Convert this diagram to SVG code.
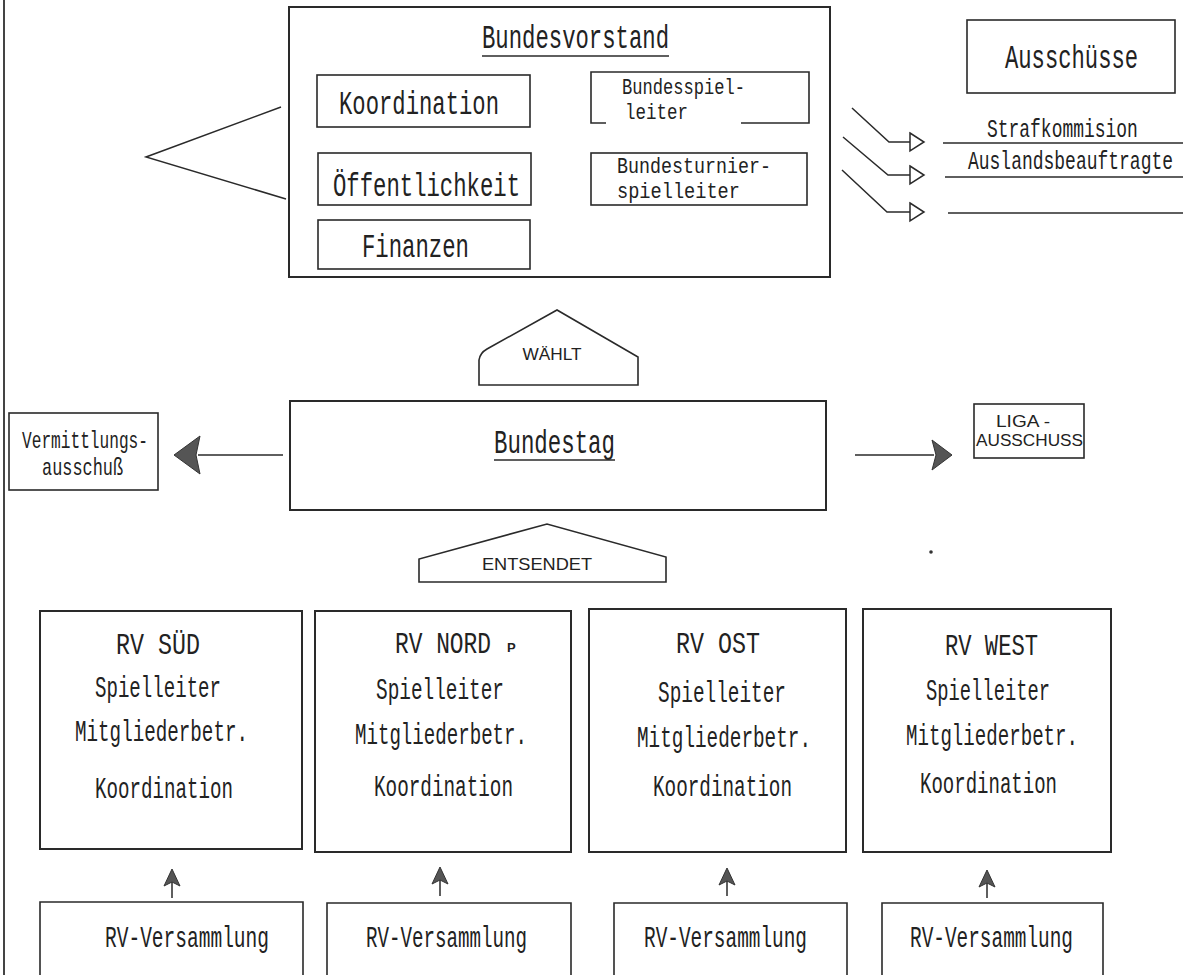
<svg xmlns="http://www.w3.org/2000/svg" width="1183" height="975" viewBox="0 0 1183 975">
<style>
.bx{fill:none;stroke:#2a2a2a;stroke-width:1.6}
.bxt{fill:none;stroke:#2a2a2a;stroke-width:2}
.ln{fill:none;stroke:#2a2a2a;stroke-width:1.5}
.m{font-family:"Liberation Mono","DejaVu Sans Mono",monospace;fill:#222}
.s{font-family:"Liberation Sans",Arial,sans-serif;fill:#222}
.big{font-size:33px}
.mid{font-size:30px}
.two{font-size:22px}
.ss{font-size:26px}
.sm{font-size:24px}
.ah{fill:#555;stroke:#333;stroke-width:1}
.oh{fill:#fff;stroke:#2a2a2a;stroke-width:1.5}
</style>
<rect width="1183" height="975" fill="#fff"/>
<line x1="4" y1="0" x2="4" y2="975" stroke="#444" stroke-width="2"/>

<g id="connectors">
  <polyline class="ln" points="281,107 146,157 286,199"/>
  <polyline class="ln" points="852,108 889,142 910,142"/>
  <path class="oh" d="M910,133 L924,142 L910,151 Z"/>
  <polyline class="ln" points="843,137 888,175 910,175"/>
  <path class="oh" d="M910,166 L924,175 L910,184 Z"/>
  <polyline class="ln" points="842,170 887,212 910,212"/>
  <path class="oh" d="M910,203 L924,212 L910,221 Z"/>
  <line class="ln" x1="943" y1="143" x2="1183" y2="143"/>
  <line class="ln" x1="945" y1="177" x2="1183" y2="177"/>
  <line class="ln" x1="948" y1="213" x2="1183" y2="213"/>
  <line class="ln" x1="283" y1="455" x2="198" y2="455"/>
  <path class="ah" d="M174,455 L200,436 L196,455 L200,474 Z"/>
  <line class="ln" x1="855" y1="455" x2="934" y2="455"/>
  <path class="ah" d="M952,455 L932,440 L936,455 L932,470 Z"/>
  <line class="ln" x1="172" y1="898" x2="172" y2="880"/>
  <path class="ah" d="M172,869 L180,886 L172,882 L164,886 Z"/>
  <line class="ln" x1="440" y1="896" x2="440" y2="878"/>
  <path class="ah" d="M440,867 L448,884 L440,880 L432,884 Z"/>
  <line class="ln" x1="727" y1="896" x2="727" y2="878"/>
  <path class="ah" d="M727,868 L735,885 L727,881 L719,885 Z"/>
  <line class="ln" x1="987" y1="898" x2="987" y2="880"/>
  <path class="ah" d="M987,870 L995,887 L987,883 L979,887 Z"/>
</g>

<g id="bundesvorstand">
  <rect class="bxt" x="289" y="7" width="541" height="270"/>
  <text class="m big" x="482" y="48" textLength="187" lengthAdjust="spacingAndGlyphs">Bundesvorstand</text>
  <line class="ln" x1="482" y1="56" x2="669" y2="56"/>
</g>
<g id="koordination">
  <rect class="bx" x="317" y="75" width="213" height="52"/>
  <text class="m big" x="339" y="114" textLength="160" lengthAdjust="spacingAndGlyphs">Koordination</text>
</g>
<g id="oeffentlichkeit">
  <rect class="bx" x="318" y="153" width="213" height="52"/>
  <text class="m big" x="333" y="196" textLength="187" lengthAdjust="spacingAndGlyphs">Öffentlichkeit</text>
</g>
<g id="finanzen">
  <rect class="bx" x="318" y="220" width="212" height="49"/>
  <text class="m big" x="362" y="257" textLength="107" lengthAdjust="spacingAndGlyphs">Finanzen</text>
</g>
<g id="bundesspielleiter">
  <path class="bx" d="M606,123 L591,123 L591,72 L809,72 L809,123 L741,123"/>
  <text class="m two" transform="translate(622,94) scale(0.776,1)">Bundesspiel-</text>
  <text class="m two" transform="translate(625,119) scale(0.795,1)">leiter</text>
</g>
<g id="bundesturnierspielleiter">
  <rect class="bx" x="591" y="153" width="216" height="52"/>
  <text class="m two" transform="translate(617,173) scale(0.833,1)">Bundesturnier-</text>
  <text class="m two" transform="translate(617,198) scale(0.847,1)">spielleiter</text>
</g>

<g id="ausschuesse">
  <rect class="bx" x="967" y="20" width="208" height="73"/>
  <text class="m big" transform="translate(1005,68) scale(0.672,1)">Ausschüsse</text>
</g>
<g id="strafkommision">
  <text class="m ss" transform="translate(987,137) scale(0.691,1)">Strafkommision</text>
</g>
<g id="auslandsbeauftragte">
  <text class="m ss" transform="translate(968,169) scale(0.692,1)">Auslandsbeauftragte</text>
</g>

<g id="waehlt">
  <path class="bx" d="M479,385 L479,360 Q480,353 487,349 L557,310 L638,357 L638,385 Z"/>
  <text class="s" x="552" y="360" font-size="16" text-anchor="middle" textLength="59" lengthAdjust="spacingAndGlyphs">WÄHLT</text>
</g>

<g id="bundestag">
  <rect class="bxt" x="290" y="401" width="536" height="109"/>
  <text class="m big" x="494" y="453" textLength="121" lengthAdjust="spacingAndGlyphs">Bundestag</text>
  <line class="ln" x1="494" y1="460" x2="615" y2="460"/>
</g>

<g id="vermittlungsausschuss">
  <rect class="bx" x="9" y="413" width="149" height="77"/>
  <text class="m sm" x="22" y="448" textLength="126" lengthAdjust="spacingAndGlyphs">Vermittlungs-</text>
  <text class="m sm" x="42" y="475" textLength="81" lengthAdjust="spacingAndGlyphs">ausschuß</text>
</g>

<g id="ligaausschuss">
  <rect class="bx" x="974" y="404" width="110" height="54"/>
  <text class="s" x="996" y="427" font-size="16" textLength="54" lengthAdjust="spacingAndGlyphs">LIGA -</text>
  <text class="s" x="976" y="446" font-size="16" textLength="107" lengthAdjust="spacingAndGlyphs">AUSSCHUSS</text>
</g>

<g id="entsendet">
  <path class="bx" d="M419,582 L419,559 L547,524 L666,557 L666,582 Z"/>
  <text class="s" x="537" y="570" font-size="17" text-anchor="middle" textLength="110" lengthAdjust="spacingAndGlyphs">ENTSENDET</text>
</g>

<g id="rv-sued">
  <rect class="bxt" x="40" y="611" width="262" height="238"/>
  <text class="m mid" x="116" y="654" textLength="84" lengthAdjust="spacingAndGlyphs">RV SÜD</text>
  <text class="m mid" x="95" y="697" textLength="126" lengthAdjust="spacingAndGlyphs">Spielleiter</text>
  <text class="m mid" x="75" y="741" textLength="173" lengthAdjust="spacingAndGlyphs">Mitgliederbetr.</text>
  <text class="m mid" x="95" y="798" textLength="138" lengthAdjust="spacingAndGlyphs">Koordination</text>
</g>
<g id="rv-nord">
  <rect class="bxt" x="315" y="611" width="256" height="241"/>
  <text class="m mid" transform="translate(395,653) scale(0.762,1)">RV NORD</text>
  <text class="s" x="507" y="652" font-size="13" font-weight="bold">P</text>
  <text class="m mid" x="376" y="699" textLength="128" lengthAdjust="spacingAndGlyphs">Spielleiter</text>
  <text class="m mid" x="355" y="744" textLength="172" lengthAdjust="spacingAndGlyphs">Mitgliederbetr.</text>
  <text class="m mid" x="374" y="796" textLength="139" lengthAdjust="spacingAndGlyphs">Koordination</text>
</g>
<g id="rv-ost">
  <rect class="bxt" x="589" y="609" width="257" height="243"/>
  <text class="m mid" x="676" y="653" textLength="84" lengthAdjust="spacingAndGlyphs">RV OST</text>
  <text class="m mid" x="658" y="702" textLength="128" lengthAdjust="spacingAndGlyphs">Spielleiter</text>
  <text class="m mid" x="637" y="747" textLength="174" lengthAdjust="spacingAndGlyphs">Mitgliederbetr.</text>
  <text class="m mid" x="653" y="796" textLength="139" lengthAdjust="spacingAndGlyphs">Koordination</text>
</g>
<g id="rv-west">
  <rect class="bxt" x="863" y="609" width="248" height="243"/>
  <text class="m mid" x="945" y="655" textLength="93" lengthAdjust="spacingAndGlyphs">RV WEST</text>
  <text class="m mid" x="926" y="700" textLength="124" lengthAdjust="spacingAndGlyphs">Spielleiter</text>
  <text class="m mid" x="906" y="745" textLength="172" lengthAdjust="spacingAndGlyphs">Mitgliederbetr.</text>
  <text class="m mid" x="920" y="793" textLength="137" lengthAdjust="spacingAndGlyphs">Koordination</text>
</g>

<g id="rv-versammlung-sued">
  <path class="bx" d="M40,975 L40,902 L303,902 L303,975"/>
  <text class="m mid" x="105" y="947" textLength="164" lengthAdjust="spacingAndGlyphs">RV-Versammlung</text>
</g>
<g id="rv-versammlung-nord">
  <path class="bx" d="M327,975 L327,903 L571,903 L571,975"/>
  <text class="m mid" x="366" y="947" textLength="161" lengthAdjust="spacingAndGlyphs">RV-Versammlung</text>
</g>
<g id="rv-versammlung-ost">
  <path class="bx" d="M614,975 L614,903 L847,903 L847,975"/>
  <text class="m mid" x="644" y="947" textLength="163" lengthAdjust="spacingAndGlyphs">RV-Versammlung</text>
</g>
<g id="rv-versammlung-west">
  <path class="bx" d="M882,975 L882,903 L1103,903 L1103,975"/>
  <text class="m mid" x="910" y="947" textLength="163" lengthAdjust="spacingAndGlyphs">RV-Versammlung</text>
</g>
<circle cx="931" cy="552" r="1.8" fill="#333"/>
</svg>
